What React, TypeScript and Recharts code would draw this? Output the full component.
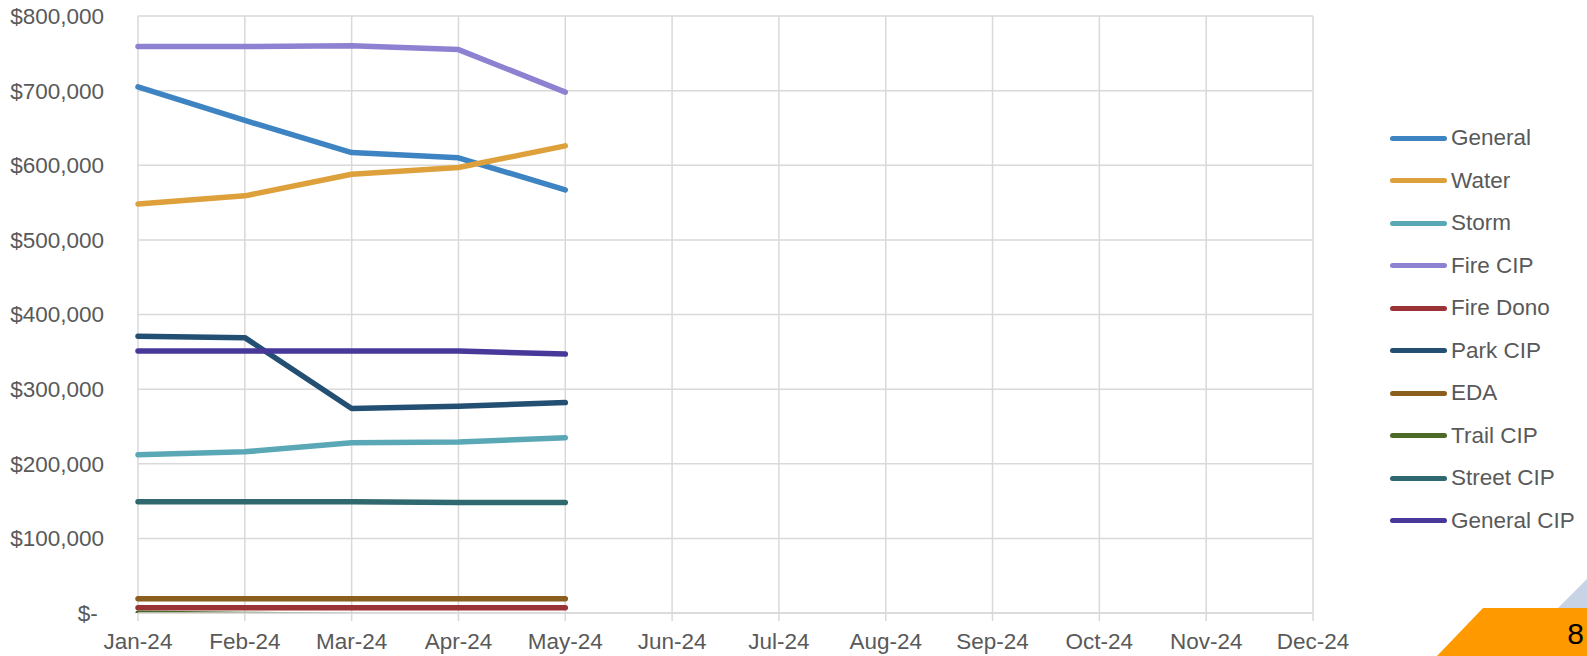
import { LineChart, Line, XAxis, YAxis, CartesianGrid } from "recharts";

const months = ["Jan-24", "Feb-24", "Mar-24", "Apr-24", "May-24", "Jun-24", "Jul-24", "Aug-24", "Sep-24", "Oct-24", "Nov-24", "Dec-24"];

const general = [705000, 660000, 617000, 610000, 567000];
const water = [548000, 559000, 588000, 597000, 626000];
const storm = [212000, 216000, 228000, 229000, 235000];
const fireCip = [759000, 759000, 760000, 755000, 698000];
const fireDono = [7000, 7000, 7000, 7000, 7000];
const parkCip = [371000, 369000, 274000, 277000, 282000];
const eda = [19000, 19000, 19000, 19000, 19000];
const trailCip = [-500, -2000, -3500, -5000, -6500];
const streetCip = [149000, 149000, 149000, 148000, 148000];
const generalCip = [351000, 351000, 351000, 351000, 347000];

const yTicks = [0, 100000, 200000, 300000, 400000, 500000, 600000, 700000, 800000];

const series = [
  { name: "General", values: general, color: "#3E84C3" },
  { name: "Water", values: water, color: "#DDA03B" },
  { name: "Storm", values: storm, color: "#5AA8B5" },
  { name: "Fire CIP", values: fireCip, color: "#8D82D1" },
  { name: "Fire Dono", values: fireDono, color: "#9A3336" },
  { name: "Park CIP", values: parkCip, color: "#234F73" },
  { name: "EDA", values: eda, color: "#8A5E1F" },
  { name: "Trail CIP", values: trailCip, color: "#4E6A29" },
  { name: "Street CIP", values: streetCip, color: "#30686F" },
  { name: "General CIP", values: generalCip, color: "#46399A" },
];

const chartData = months.map((month, i) => {
  const row: Record<string, string | number | undefined> = { month };
  series.forEach((s) => {
    row[s.name] = s.values[i];
  });
  return row;
});

const FONT = "'Liberation Sans', Arial, sans-serif";
const TEXT = "#595959";
const GRID = "#D9D9D9";

// accounting style: zero shows as "$-" with a little trailing pad
function formatDollar(v: number): string {
  if (v === 0) return "$-\u00A0";
  return "$" + v.toLocaleString("en-US");
}

export default function App() {
  return (
    <div style={{ position: "absolute", left: 0, top: 0, width: 1587, height: 656, background: "#fff", fontFamily: FONT, overflow: "hidden" }}>
      <LineChart
        width={1587}
        height={656}
        data={chartData}
        margin={{ top: 16, right: 274, left: 0, bottom: 0 }}
      >
        <CartesianGrid stroke={GRID} strokeWidth={1.5} />
        <XAxis
          dataKey="month"
          height={43}
          interval={0}
          tick={{ fontSize: 22.5, fill: TEXT, fontFamily: FONT }}
          tickLine={{ stroke: GRID, strokeWidth: 1.5 }}
          axisLine={{ stroke: GRID, strokeWidth: 1.5 }}
          tickSize={8}
          tickMargin={12}
        />
        <YAxis
          width={138}
          domain={[0, 800000]}
          ticks={yTicks}
          allowDataOverflow
          tickFormatter={formatDollar}
          tick={{ fontSize: 22.5, fill: TEXT, fontFamily: FONT }}
          tickLine={false}
          axisLine={false}
          tickSize={0}
          tickMargin={34}
        />
        {series.map((s) => (
          <Line
            key={s.name}
            dataKey={s.name}
            stroke={s.color}
            strokeWidth={5.5}
            strokeLinecap="round"
            strokeLinejoin="round"
            type="linear"
            dot={false}
            activeDot={false}
            isAnimationActive={false}
          />
        ))}
      </LineChart>

      {/* legend */}
      <div style={{ position: "absolute", left: 1390, top: 117 }}>
        {series.map((s) => (
          <div key={s.name} style={{ display: "flex", alignItems: "center", height: 42.5 }}>
            <div style={{ width: 57, height: 5, borderRadius: 3, background: s.color }} />
            <span style={{ marginLeft: 4, fontSize: 22.5, color: TEXT, whiteSpace: "nowrap" }}>{s.name}</span>
          </div>
        ))}
      </div>

      {/* slide corner decoration + page number */}
      <svg width={1587} height={656} style={{ position: "absolute", left: 0, top: 0, pointerEvents: "none" }}>
        <polygon points="1558,608 1587,579 1587,608" fill="#C8D3E6" />
        <polygon points="1483,608 1587,608 1587,656 1437,656" fill="#FF9900" />
        <text x={1584} y={644} fontSize={30} fill="#000" fontFamily={FONT} textAnchor="end">8</text>
      </svg>
    </div>
  );
}
